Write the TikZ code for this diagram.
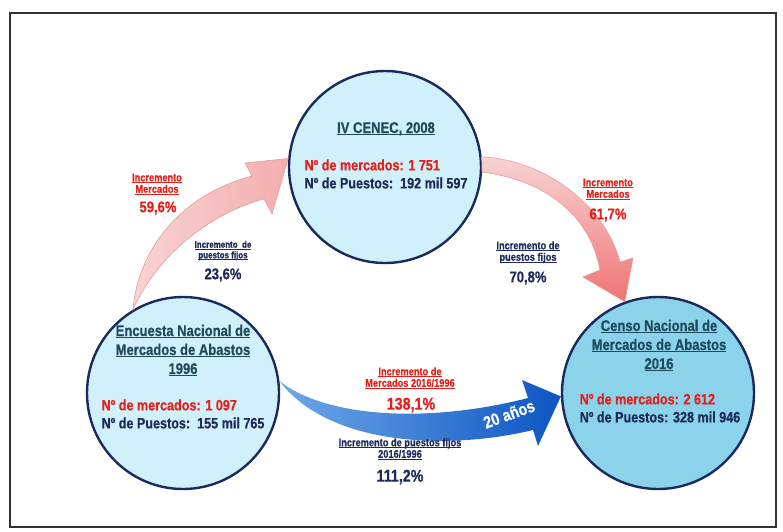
\documentclass[tikz,border=0pt]{standalone}
\usepackage{fontspec}
\newfontfamily\narrowsf{Liberation Sans}[FakeStretch=0.84,BoldFont={Liberation Sans Bold},BoldFeatures={FakeBold=0.6}]
\definecolor{rim}{HTML}{1B2A5E}
\definecolor{pale}{HTML}{D0F1FB}
\definecolor{deep}{HTML}{8AD3EA}
\definecolor{teal}{HTML}{1F4A5E}
\definecolor{navy}{HTML}{1E2B5A}
\definecolor{hot}{HTML}{E3201B}
\definecolor{pinkA}{HTML}{F9D3D3}
\definecolor{pinkB}{HTML}{F4AEAE}
\definecolor{salmon}{HTML}{EF7474}
\definecolor{pinkrim}{HTML}{E79C9C}
\definecolor{bluA}{HTML}{6EA8E8}
\definecolor{bluM}{HTML}{1A60CA}
\definecolor{bluB}{HTML}{0E55C4}
\newcommand{\fs}[2]{\fontsize{#1}{#2}\selectfont}
\newcommand{\ul}[1]{\underline{\smash{#1}}}
\begin{document}
\begin{tikzpicture}[x=1pt,y=-1pt,
  basin/.style={circle,draw=rim,line width=2.4pt,minimum size=192pt,inner sep=0pt},
  head/.style={font=\narrowsf\bfseries\fs{15.5}{19},text=teal,align=center},
  facts/.style={font=\narrowsf\bfseries\fs{15}{18},text=navy,align=left},
  note/.style={font=\narrowsf\bfseries\fs{11}{11.5},align=center},
  pct/.style={font=\narrowsf\bfseries\fs{15.5}{16}}]
\useasboundingbox (0,0) rectangle (783,531);
\draw[line width=1.4pt,black!80] (10,13) rectangle (776,527);
% circles
\node[basin,fill=pale] (enc) at (183,393) {};
\node[basin,fill=pale] (cenec) at (385,167) {};
\node[basin,fill=deep] (censo) at (658,393) {};
% pink arrows
\shadedraw[draw=pinkrim,line width=0.6pt,left color=pinkA,right color=pinkB]
  (enc.121) .. controls (138,250) and (180,195) .. (252,176)
  -- (245,163) -- (cenec.175) -- (272,214) -- (264,199)
  .. controls (215,212) and (160,250) .. (enc.121) -- cycle;
\shadedraw[draw=pinkrim,line width=0.6pt,top color=pinkA,bottom color=salmon]
  (cenec.6) .. controls (545,160) and (605,205) .. (620,262)
  -- (633,258) -- (censo.110) -- (583,277) -- (600,270)
  .. controls (590,215) and (545,180) .. (cenec.-3) -- cycle;
% blue arrow
\shade[left color=bluA,middle color=bluM,right color=bluB]
  (enc.7) .. controls (330,420) and (435,422) .. (528,398)
  -- (522,380) -- (censo.182) -- (538,446) -- (533,430)
  .. controls (450,450) and (330,447) .. (enc.7) -- cycle;
\node[font=\narrowsf\bfseries\fs{17}{18},text=white,rotate=20] (years) at (509,414) {20 años};
% circle texts
\node[head] (enc-name) at (183,356) {\ul{Encuesta Nacional de}\\\ul{Mercados de Abastos}\\\ul{1996}};
\node[facts] (enc-data) at (183,414) {\textcolor{hot}{Nº de mercados: 1 097}\\Nº de Puestos:\ \ 155 mil 765};
\node[head] (cenec-name) at (386,134) {\ul{IV CENEC, 2008}};
\node[facts] (cenec-data) at (386,174) {\textcolor{hot}{Nº de mercados: 1 751}\\Nº de Puestos:\ \ 192 mil 597};
\node[head] (censo-name) at (659,351) {\ul{Censo Nacional de}\\\ul{Mercados de Abastos}\\\ul{2016}};
\node[facts] (censo-data) at (660,408) {\textcolor{hot}{Nº de mercados: 2 612}\\Nº de Puestos: 328 mil 946};
% increments
\node[note,text=hot] (mkt-a) at (157,188) {\ul{Incremento}\\\ul{Mercados}};
\node[pct,text=hot] (mkt-a-pct) at (158,208) {59,6\%};
\node[note,text=navy,font=\narrowsf\bfseries\fs{9.5}{10.5}] (pst-a) at (223,254) {\ul{Incremento\ \ de}\\\ul{puestos fijos}};
\node[pct,text=navy] (pst-a-pct) at (223,275) {23,6\%};
\node[note,text=hot] (mkt-b) at (608,193) {\ul{Incremento}\\\ul{Mercados}};
\node[pct,text=hot] (mkt-b-pct) at (608,215) {61,7\%};
\node[note,text=navy] (pst-b) at (528,256) {\ul{Incremento de}\\\ul{puestos fijos}};
\node[pct,text=navy] (pst-b-pct) at (528,278) {70,8\%};
\node[note,text=hot] (mkt-c) at (410,382) {\ul{Incremento de}\\\ul{Mercados 2016/1996}};
\node[pct,text=hot,font=\narrowsf\bfseries\fs{17}{18}] (mkt-c-pct) at (411,405) {138,1\%};
\node[note,text=navy] (pst-c) at (400,453) {\ul{Incremento de puestos fijos}\\\ul{2016/1996}};
\node[pct,text=navy,font=\narrowsf\bfseries\fs{17}{18}] (pst-c-pct) at (400,477) {111,2\%};
\end{tikzpicture}
\end{document}
